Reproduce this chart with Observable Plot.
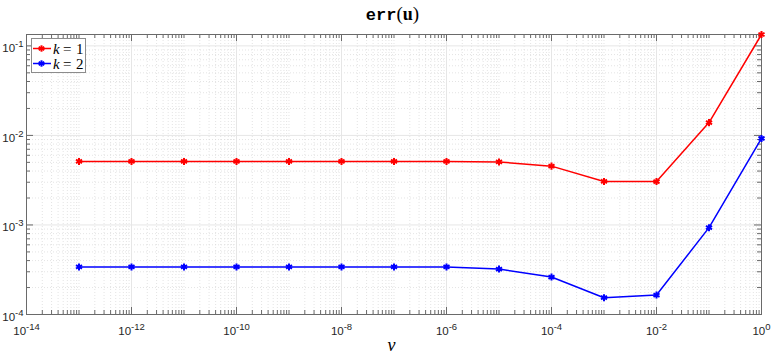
<!DOCTYPE html>
<html><head><meta charset="utf-8">
<script src="https://cdn.jsdelivr.net/npm/d3@7"></script>
<script src="https://cdn.jsdelivr.net/npm/@observablehq/plot@0.6"></script>
<style>
body{margin:0;background:#fff}
#chart{position:relative;width:772px;height:360px}
#chart svg{overflow:visible}
</style>
</head><body><div id="chart"></div>
<script>
// ---- data ----
const nu = [1e-13,1e-12,1e-11,1e-10,1e-9,1e-8,1e-7,1e-6,1e-5,1e-4,1e-3,1e-2,1e-1,1e0];
const errK1 = [0.00512,0.00512,0.00512,0.00512,0.00512,0.00512,0.00512,0.00512,0.00505,0.00454,0.00306,0.00305,0.0139,0.134];
const errK2 = [0.00034,0.00034,0.00034,0.00034,0.00034,0.00034,0.00034,0.00034,0.000322,0.000262,0.000154,0.000165,0.000933,0.00925];
const seriesNames = ["1","2"];
const seriesColors = ["#ff0000","#0000ff"];
const xMajorTicks = [1e-14,1e-12,1e-10,1e-8,1e-6,1e-4,1e-2,1e0];
const yMajorTicks = [1e-4,1e-3,1e-2,1e-1];
const xDomain = [1e-14, 1];
const yDomain = [1e-4, 0.134];

// minor tick positions
const xMinorTicks = [];
for (let e = -14; e < 0; e++) for (let m = 1; m <= 9; m++) {
  const v = m * Math.pow(10, e);
  if (m === 1 && e % 2 === 0) continue;
  xMinorTicks.push(v);
}
const yMinorTicks = [];
for (let e = -4; e <= -1; e++) for (let m = 2; m <= 9; m++) {
  const v = m * Math.pow(10, e);
  if (v <= yDomain[1]) yMinorTicks.push(v);
}

const rows = [];
[errK1, errK2].forEach((arr, s) => nu.forEach((x, i) => rows.push({nu: x, err: arr[i], k: seriesNames[s]})));

const W = 772, H = 360, mL = 26, mR = 11, mT = 34, mB = 46;
const fw = W - mL - mR, fh = H - mT - mB;
const axisColor = "#6a6a6a";
const expFmt = d => "10^" + Math.round(Math.log10(d));

const plot = Plot.plot({
  width: W, height: H,
  marginLeft: mL, marginRight: mR, marginTop: mT, marginBottom: mB,
  style: {fontFamily: "'Liberation Sans', Arial, sans-serif", fontSize: "11.5px", color: "#262626", background: "#fff"},
  x: {type: "log", domain: xDomain},
  y: {type: "log", domain: yDomain},
  color: {domain: seriesNames, range: seriesColors},
  marks: [
    Plot.gridX(xMinorTicks, {stroke: "#d9d9d9", strokeOpacity: 1, strokeDasharray: "1,2", strokeWidth: 0.7}),
    Plot.gridY(yMinorTicks, {stroke: "#d9d9d9", strokeOpacity: 1, strokeDasharray: "1,2", strokeWidth: 0.7}),
    Plot.gridX(xMajorTicks, {stroke: "#e6e6e6", strokeOpacity: 1}),
    Plot.gridY(yMajorTicks, {stroke: "#e6e6e6", strokeOpacity: 1}),
    // inward ticks, bottom & top
    Plot.tickX(xMajorTicks, {x: d => d, stroke: axisColor, insetTop: fh - 7}),
    Plot.tickX(xMajorTicks, {x: d => d, stroke: axisColor, insetBottom: fh - 7}),
    Plot.tickX(xMinorTicks, {x: d => d, stroke: axisColor, insetTop: fh - 4}),
    Plot.tickX(xMinorTicks, {x: d => d, stroke: axisColor, insetBottom: fh - 4}),
    // inward ticks, left & right
    Plot.tickY(yMajorTicks, {y: d => d, stroke: axisColor, insetRight: fw - 7}),
    Plot.tickY(yMajorTicks, {y: d => d, stroke: axisColor, insetLeft: fw - 7}),
    Plot.tickY(yMinorTicks, {y: d => d, stroke: axisColor, insetRight: fw - 4}),
    Plot.tickY(yMinorTicks, {y: d => d, stroke: axisColor, insetLeft: fw - 4}),
    Plot.frame({stroke: axisColor}),
    Plot.line(rows, {x: "nu", y: "err", z: "k", stroke: "k", strokeWidth: 1.5}),
    Plot.dot(rows, {x: "nu", y: "err", stroke: "k", fill: "k", symbol: "asterisk", r: 3.3, strokeWidth: 2}),
    Plot.axisX(xMajorTicks, {anchor: "bottom", tickSize: 0, tickPadding: 12, tickFormat: expFmt, label: null, fill: "#262626"}),
    Plot.axisY(yMajorTicks, {anchor: "left", tickSize: 0, tickPadding: 3, tickFormat: expFmt, label: null, dy: 2.5, fill: "#262626"})
  ]
});

document.getElementById("chart").appendChild(plot);
const svg = d3.select(plot);

// superscript exponents in tick labels
svg.selectAll('g[aria-label$="tick label"] text').each(function() {
  const t = d3.select(this);
  const parts = t.text().split("^");
  if (parts.length !== 2) return;
  t.text("");
  t.append("tspan").text(parts[0]);
  t.append("tspan").attr("font-size", "9.5px").attr("dy", "-5").text(parts[1]);
});

// title
const title = svg.append("text").attr("x", mL + fw / 2 - 1).attr("y", 20)
  .attr("text-anchor", "middle").attr("font-size", "17px").attr("font-weight", "bold").attr("fill", "#000");
title.append("tspan").attr("font-family", "'Liberation Mono', 'DejaVu Sans Mono', monospace").text("err");
title.append("tspan").attr("font-family", "'Liberation Serif', serif").attr("font-weight", "normal").attr("font-size", "19px").text("(");
title.append("tspan").attr("font-family", "'Liberation Serif', serif").attr("font-size", "18px").text("u");
title.append("tspan").attr("font-family", "'Liberation Serif', serif").attr("font-weight", "normal").attr("font-size", "19px").text(")");

// x label
svg.append("text").attr("x", mL + fw / 2 - 2).attr("y", 351).attr("text-anchor", "middle")
  .attr("font-family", "'Liberation Serif', serif").attr("font-style", "italic").attr("font-size", "18px")
  .attr("fill", "#000").text("ν");

// legend
const lg = svg.append("g").attr("aria-label", "legend").attr("text-anchor", "start");
lg.append("rect").attr("x", 31.5).attr("y", 38.5).attr("width", 54).attr("height", 34)
  .attr("fill", "#fff").attr("stroke", "#8c8c8c");
seriesNames.forEach((name, i) => {
  const cy = 48.5 + i * 15;
  lg.append("line").attr("x1", 33).attr("x2", 51).attr("y1", cy).attr("y2", cy)
    .attr("stroke", seriesColors[i]).attr("stroke-width", 1.5);
  const g = lg.append("g").attr("transform", `translate(41.5,${cy})`).attr("stroke", seriesColors[i]).attr("stroke-width", 2);
  [0, 60, 120].forEach(a => {
    const r = 3.2, rad = a * Math.PI / 180;
    g.append("line").attr("x1", -r * Math.sin(rad)).attr("y1", -r * Math.cos(rad))
      .attr("x2", r * Math.sin(rad)).attr("y2", r * Math.cos(rad));
  });
  const tf = (x, s, italic) => lg.append("text").attr("x", x).attr("y", cy + 5)
    .attr("text-anchor", "start").attr("font-family", "'Liberation Serif', serif")
    .attr("font-style", italic ? "italic" : "normal").attr("font-size", "15px").attr("fill", "#000").text(s);
  tf(53, "k", true);
  tf(63, "=", false);
  tf(76, name, false);
});
</script>
</body></html>
